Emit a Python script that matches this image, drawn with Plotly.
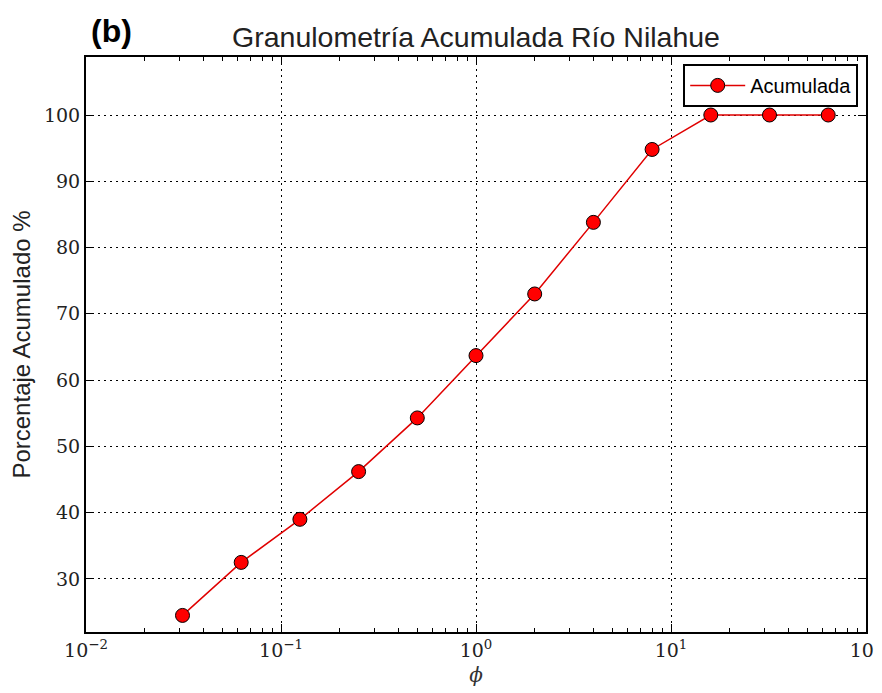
import plotly.graph_objects as go

phi = [1/32, 1/16, 1/8, 1/4, 1/2, 1, 2, 4, 8, 16, 32, 64]
acumulada = [24.5, 32.5, 39.0, 46.2, 54.3, 63.7, 73.0, 83.8, 94.8, 100.0, 100.0, 100.0]
x_tickvals = [0.01, 0.1, 1, 10, 100]
x_ticktext = ["10<sup>−2</sup>", "10<sup>−1</sup>", "10<sup>0</sup>", "10<sup>1</sup>", "10<sup>2</sup>"]
x_minor = [m * d for d in [0.01, 0.1, 1, 10] for m in range(2, 10)]
y_tickvals = [30, 40, 50, 60, 70, 80, 90, 100]

fig = go.Figure()
# invisible helper trace to carry the minor-tick axis
fig.add_trace(go.Scatter(
    x=phi, y=acumulada, xaxis="x2", mode="markers", showlegend=False,
    marker=dict(opacity=0), hoverinfo="skip",
))
fig.add_trace(go.Scatter(
    x=phi, y=acumulada, mode="lines+markers", name="Acumulada",
    line=dict(color="#e00000", width=1.5),
    marker=dict(color="#ff0000", size=14, line=dict(color="black", width=1)),
))

axis_common = dict(
    showline=True, linecolor="black", linewidth=2, mirror="ticks",
    ticks="inside", ticklen=8, tickcolor="black", tickwidth=1,
    showgrid=True, gridcolor="black", griddash="2px,4px", gridwidth=1,
    zeroline=False, automargin=False, ticklabeloverflow="allow",
    tickfont=dict(family="DejaVu Serif", size=19, color="#222"),
)

fig.update_layout(
    xaxis=dict(
        type="log", range=[-2, 2], tickvals=x_tickvals, ticktext=x_ticktext,
        title=dict(text="<i>ϕ</i>", font=dict(family="DejaVu Serif", size=20, color="#333"), standoff=8),
        **axis_common,
    ),
    xaxis2=dict(
        type="log", range=[-2, 2], overlaying="x", side="bottom", anchor="y",
        tickmode="array", tickvals=x_minor, showticklabels=False,
        ticks="inside", ticklen=4, tickcolor="black", tickwidth=1,
        showline=True, linecolor="black", linewidth=2, mirror="ticks",
        showgrid=False, zeroline=False, automargin=False,
    ),
    yaxis=dict(
        range=[22, 108.75], tickvals=y_tickvals,
        title=dict(text="Porcentaje Acumulado %", font=dict(family="Liberation Sans", size=24, color="#222"), standoff=16),
        **axis_common,
    ),
)

fig.update_layout(
    width=874, height=685,
    margin=dict(l=78, r=16, t=49, b=61),
    paper_bgcolor="white", plot_bgcolor="white",
    title=dict(text="Granulometría Acumulada Río Nilahue", x=0.5, xref="paper", xanchor="center",
               y=0.958, yanchor="middle",
               font=dict(family="Liberation Sans", size=28.5, color="#222")),
    showlegend=True,
    legend=dict(x=0.99, y=0.988, xanchor="right", yanchor="top",
                bordercolor="black", borderwidth=2, bgcolor="white", itemwidth=55,
                font=dict(family="Liberation Sans", size=20, color="black")),
)
fig.add_annotation(text="<b>(b)</b>", xref="paper", yref="paper", x=0.004, y=1.045,
                   xanchor="left", yanchor="middle", showarrow=False,
                   font=dict(family="Liberation Sans", size=32, color="black"))

fig.write_html("out.html")
